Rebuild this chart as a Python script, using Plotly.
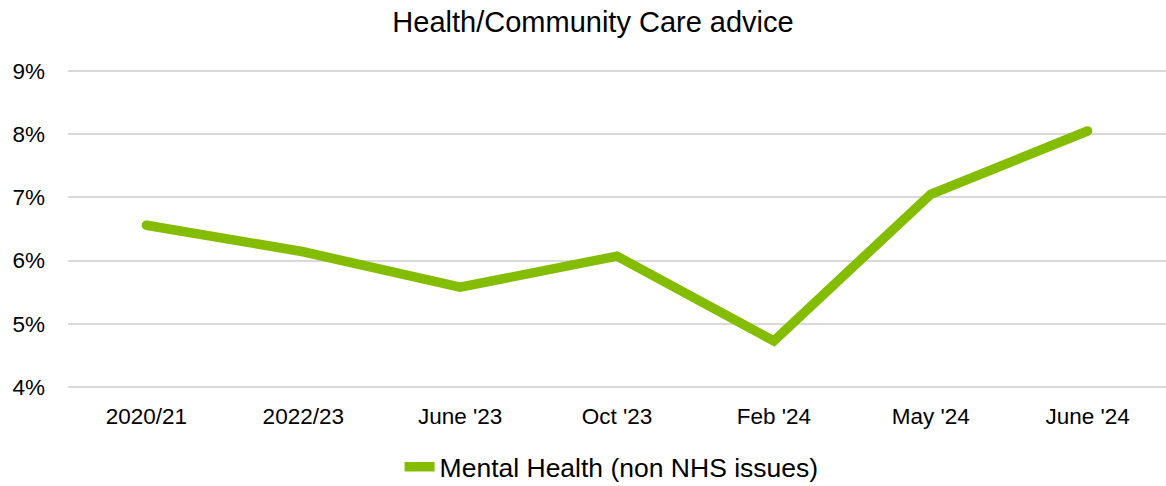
import plotly.graph_objects as go

categories = ["2020/21", "2022/23", "June '23", "Oct '23", "Feb '24", "May '24", "June '24"]
mental_health = [6.56, 6.14, 5.58, 6.07, 4.73, 7.05, 8.05]
y_ticks = [4, 5, 6, 7, 8, 9]
y_tick_labels = ["4%", "5%", "6%", "7%", "8%", "9%"]

FONT = "Liberation Sans, Arial, sans-serif"
GREEN = "#84BD00"
LW = 9.5

fig = go.Figure()
fig.add_trace(go.Scatter(
    x=categories, y=mental_health, mode="lines",
    name="Mental Health (non NHS issues)",
    line=dict(color=GREEN, width=LW),
))
# round line caps at the two ends of the series
fig.add_trace(go.Scatter(
    x=[categories[0], categories[-1]], y=[mental_health[0], mental_health[-1]],
    mode="markers", showlegend=False, hoverinfo="skip",
    marker=dict(color=GREEN, size=LW, line=dict(width=0)),
))

fig.update_layout(
    width=1166, height=486,
    paper_bgcolor="white", plot_bgcolor="white",
    margin=dict(l=68, r=0, t=69, b=97),
    font=dict(family=FONT, size=22, color="#000000"),
    title=dict(text="Health/Community Care advice", x=0.5086, xanchor="center",
               y=0.955, yanchor="middle", font=dict(size=29, color="#000000")),
    showlegend=True,
    legend=dict(orientation="h", x=0.302, xanchor="left", xref="paper",
                y=0.039, yanchor="middle", yref="container",
                font=dict(size=26.5), bgcolor="rgba(0,0,0,0)"),
    xaxis=dict(type="category", range=[-0.5, 6.5], showgrid=False, showline=False,
               zeroline=False, ticks="", ticklabelstandoff=11, tickfont=dict(size=22.5),
               automargin=False),
    yaxis=dict(range=[3.97, 9.03], tickvals=y_ticks, ticktext=y_tick_labels,
               showgrid=True, gridcolor="#D9D9D9", gridwidth=2, zeroline=False,
               showline=False, ticks="", ticklabelstandoff=22, tickfont=dict(size=22.5),
               automargin=False),
)

fig.write_html("out.html", config={"displayModeBar": False},
               post_script="document.body.style.margin='0';document.documentElement.style.margin='0';")
